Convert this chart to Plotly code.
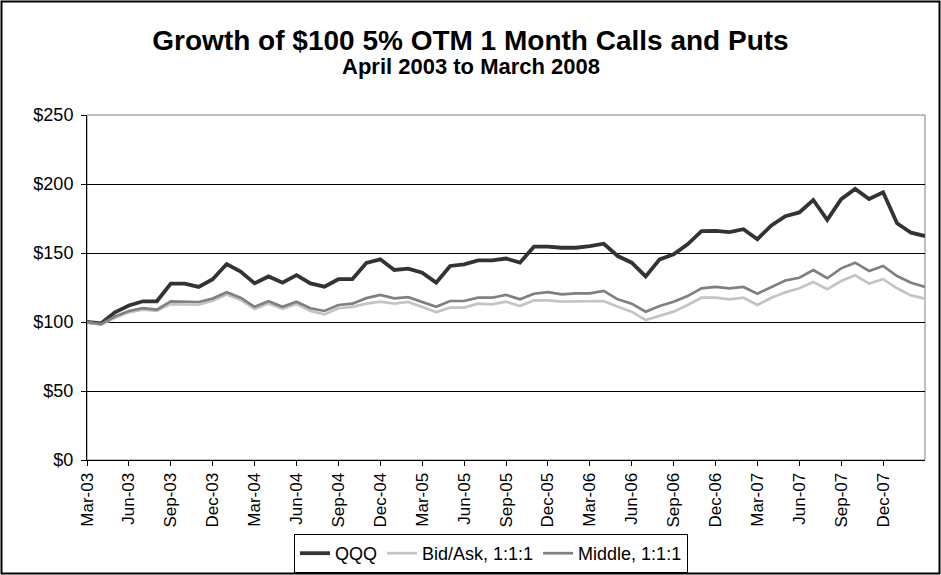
import plotly.graph_objects as go
import pandas as pd

months = [d.strftime("%b-%y") for d in pd.date_range("2003-03-01", "2008-03-01", freq="MS")]

qqq = [100, 99, 107, 112, 115, 115, 127.8, 127.8, 125.4, 131, 142,
       136.5, 128, 133, 128.5, 134, 128, 125.6, 131, 131, 142.8,
       145.4, 137.7, 138.6, 135.7, 128.5, 140.6, 141.8, 144.7, 144.7, 146,
       143, 154.6, 154.6, 153.8, 153.8, 155, 156.7, 147.8, 143, 133,
       145.4, 149, 156.3, 165.9, 166, 165.2, 167.2, 160, 170, 176.7,
       179.4, 188.4, 174, 189, 196.4, 189.1, 194, 171.5, 164.7, 162.3]

bid_ask = [100, 98, 103, 107, 109, 108, 113, 113, 112.5, 115.5, 120,
           116, 109.5, 113.5, 109.5, 113, 108, 105.5, 110, 111, 113.3,
           114.7, 113.3, 114.5, 111, 107.2, 110.4, 110.4, 113.3, 112.8, 114.7,
           111.6, 115.7, 115.7, 114.7, 114.7, 114.7, 115.2, 111, 107.5, 101.5,
           104.3, 107.5, 112.3, 117.6, 117.6, 116.4, 117.6, 112.3, 117.6, 121.5,
           124.4, 129, 123.7, 129.7, 133.8, 127.8, 131, 124.4, 119.3, 116.9]

middle = [100, 98.5, 104, 108, 110, 109, 115, 115, 114.5, 117, 121.5,
          117.6, 111, 115, 111, 114.7, 110, 108, 112.3, 113.3, 117.3,
          119.6, 117.1, 118, 114.7, 111, 115.2, 115.2, 117.6, 117.6, 119.7,
          116.4, 120.5, 121.7, 120, 120.8, 120.8, 122.5, 116.4, 113.3, 107.4,
          111.6, 114.7, 118.8, 124.4, 125.4, 124.4, 125.4, 120.5, 125.4, 130.1,
          132.1, 137.7, 131.7, 138.9, 143, 137, 140.6, 133.3, 128.5, 125.4]

series_names = ["QQQ", "Bid/Ask, 1:1:1", "Middle, 1:1:1"]
y_ticks = [0, 50, 100, 150, 200, 250]
y_tick_text = ["$" + str(v) for v in y_ticks]
x_tick_labels = months[0:-1:3]

fig = go.Figure()
fig.add_trace(go.Scatter(x=months, y=qqq, mode="lines", name=series_names[0],
                         line=dict(color="#333333", width=3.8)))
fig.add_trace(go.Scatter(x=months, y=bid_ask, mode="lines", name=series_names[1],
                         line=dict(color="#c4c4c4", width=2.7)))
fig.add_trace(go.Scatter(x=months, y=middle, mode="lines", name=series_names[2],
                         line=dict(color="#808080", width=2.7)))

W, H = 941, 575
L, R, T, B = 87, 16, 115, 115
pw, ph = W - L - R, H - T - B
FONT = "Liberation Sans, Arial, sans-serif"

fig.update_layout(
    width=W, height=H,
    margin=dict(l=L, r=R, t=T, b=B, autoexpand=False),
    paper_bgcolor="white", plot_bgcolor="white",
    font=dict(family=FONT, color="black"),
    title=dict(
        text="<b>Growth of $100 5% OTM 1 Month Calls and Puts</b>",
        x=0.5, xref="container", xanchor="center",
        y=1 - 40 / H, yref="container", yanchor="middle",
        font=dict(size=28, color="black"),
    ),
    annotations=[
        dict(text="<b>April 2003 to March 2008</b>", xref="paper", yref="paper",
             x=(W / 2 - L) / pw, y=(H - B - 67) / ph, xanchor="center", yanchor="middle",
             showarrow=False, font=dict(size=22, color="black")),
    ],
    showlegend=True,
    legend=dict(
        orientation="h", x=(491 - L) / pw, xanchor="center",
        y=-(573 - 460) / ph, yanchor="bottom",
        bordercolor="black", borderwidth=1, bgcolor="white",
        font=dict(size=18, color="black"),
        itemwidth=30, tracegroupgap=0,
    ),
    xaxis=dict(
        type="category", range=[0, len(months) - 1],
        tickmode="array", tickvals=x_tick_labels, ticktext=x_tick_labels,
        tickangle=-90, ticks="outside", ticklen=5, tickcolor="black",
        showline=True, linecolor="black", linewidth=1,
        showgrid=False, zeroline=False, automargin=False,
        tickfont=dict(size=17, color="black"),
    ),
    yaxis=dict(
        range=[0, 250], tickmode="array", tickvals=y_ticks, ticktext=y_tick_text,
        ticks="outside", ticklen=5, tickcolor="black", ticklabelstandoff=4,
        showline=True, linecolor="black", linewidth=1,
        showgrid=True, gridcolor="black", gridwidth=1, zeroline=False,
        automargin=False,
        tickfont=dict(size=18, color="black"),
    ),
    shapes=[
        dict(type="rect", xref="paper", yref="paper", x0=0, x1=1, y0=0, y1=1,
             line=dict(color="#808080", width=1), layer="below"),
        dict(type="rect", xref="paper", yref="paper",
             x0=-(L - 1.5) / pw, x1=1 + (R - 1.5) / pw,
             y0=-(B - 1.5) / ph, y1=1 + (T - 1.5) / ph,
             line=dict(color="black", width=2)),
    ],
)

fig.write_html("out.html", config={"displayModeBar": False},
               post_script="document.body.style.margin='0';")
